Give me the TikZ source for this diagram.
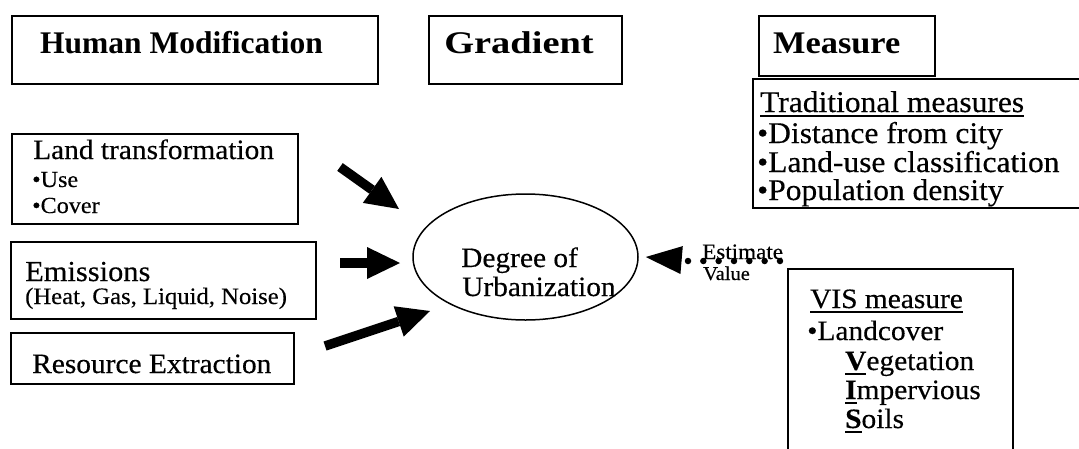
\documentclass[tikz,border=0pt]{standalone}
\usepackage{fontspec}
\setmainfont{Liberation Serif}
\newfontfamily\bodyfont[FakeStretch=1.05,FakeBold=0.35]{Liberation Serif}
\usetikzlibrary{arrows.meta,shapes.geometric}
% underline drawn as a rule of fixed weight below the word
\newcommand\ulword[1]{\setbox0\hbox{#1}\rlap{\rule[-4.6pt]{\wd0}{1.9pt}}\box0}

\begin{document}
\begin{tikzpicture}[x=1pt,y=-1pt,
  box/.style={draw, line width=1.5pt, anchor=north west, inner sep=0pt},
  headtxt/.style={inner sep=0pt, anchor=base west, font=\bfseries\fontsize{31.5}{32}\selectfont},
  bodytxt/.style={inner sep=0pt, anchor=base west, font=\bodyfont\fontsize{28}{28}\selectfont},
  smalltxt/.style={bodytxt, font=\bodyfont\fontsize{23}{23}\selectfont},
  listtxt/.style={bodytxt, font=\bodyfont\fontsize{30}{30}\selectfont},
  bigarrow/.style={line width=9.5pt, -{Triangle[length=33pt,width=32pt,line width=0pt]}},
  headtip/.style={line width=0.5pt, -{Triangle[length=36pt,width=28pt,line width=0pt]}},
  dotline/.style={line width=6.5pt, line cap=round, dash pattern=on 0pt off 15.33pt},
]
\useasboundingbox (0,0) rectangle (1079,448);
\clip (0,0) rectangle (1079,448);

% column headings
\node[box, minimum width=366pt, minimum height=68pt] (hm) at (11,15) {};
\node[headtxt] (hmt) at (40,53) {Human Modification};
\node[box, minimum width=193pt, minimum height=68pt] (grad) at (428,15) {};
\node[headtxt, anchor=base] (gradt) at (519,53) {\scalebox{1.22}[1]{Gradient}};
\node[box, minimum width=176pt, minimum height=60pt] (meas) at (758,15) {};
\node[headtxt] (meast) at (773,53) {\scalebox{1.09}[1]{Measure}};

% human modification boxes
\node[box, minimum width=286pt, minimum height=90pt] (land) at (11,133) {};
\node[bodytxt] (land1) at (33,159) {Land transformation};
\node[smalltxt] (land2) at (32,187) {•Use};
\node[smalltxt] (land3) at (32,213) {•Cover};

\node[box, minimum width=305pt, minimum height=77pt] (emis) at (10,241) {};
\node[bodytxt, font=\bodyfont\fontsize{29}{29}\selectfont] (emis1) at (25,281) {Emissions};
\node[smalltxt, font=\bodyfont\fontsize{23.5}{24}\selectfont] (emis2) at (25,304) {(Heat, Gas, Liquid, Noise)};

\node[box, minimum width=283pt, minimum height=51pt] (res) at (10,332) {};
\node[bodytxt] (res1) at (32,373) {Resource Extraction};

% gradient
\node[draw, ellipse, line width=1.5pt, minimum width=225pt, minimum height=126pt, inner sep=0pt] (deg) at (525.5,257) {};
\node[bodytxt] (deg1) at (461,267) {Degree of};
\node[bodytxt] (deg2) at (462,296) {Urbanization};

% arrows into the ellipse
\coordinate (a1s) at (340,167);
\coordinate (a1e) at (399,209);
\coordinate (a2s) at (340,263);
\coordinate (a2e) at (400,263);
\coordinate (a3s) at (325,346);
\coordinate (a3e) at (430,311);
\draw[bigarrow] (a1s) -- (a1e);
\draw[bigarrow] (a2s) -- (a2e);
\draw[bigarrow] (a3s) -- (a3e);

% measures
\node[box, minimum width=345pt, minimum height=129pt] (trad) at (752,78) {};
\node[listtxt] (trad1) at (760,112) {\ulword{Traditional measures}};
\node[listtxt] (trad2) at (757,143) {•Distance from city};
\node[listtxt] (trad3) at (757,172) {•Land-use classification};
\node[listtxt] (trad4) at (757,200) {•Population density};

\node[box, minimum width=225pt, minimum height=200pt] (vis) at (787,268) {};
\node[bodytxt] (vis1) at (810,308) {\ulword{VIS measure}};
\node[bodytxt] (vis2) at (807,340) {•Landcover};
\node[bodytxt] (vis3) at (845,370) {\ulword{\bfseries V}egetation};
\node[bodytxt] (vis4) at (845,399) {\ulword{\bfseries I}mpervious};
\node[bodytxt] (vis5) at (845,428) {\ulword{\bfseries S}oils};

% estimated value feeding the gradient
\coordinate (dotA) at (688,261);
\coordinate (dotB) at (781,261);
\coordinate (tipbase) at (681,260);
\draw[dotline] (dotA) -- (dotB);
\draw[headtip] (tipbase) -- ([xshift=7pt]deg.east);
\node[smalltxt, font=\bodyfont\fontsize{22}{22}\selectfont] (est1) at (702,259) {Estimate};
\node[smalltxt, font=\bodyfont\fontsize{19.5}{20}\selectfont] (est2) at (703,280) {Value};
\end{tikzpicture}
\end{document}
